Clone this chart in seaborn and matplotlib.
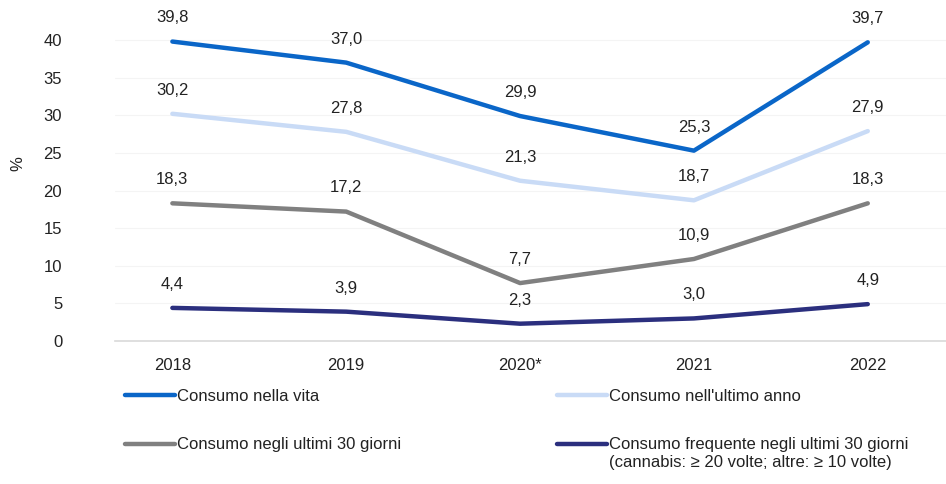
import pandas as pd
import matplotlib.pyplot as plt
import seaborn as sns
from matplotlib.text import Annotation

# data
anni = ["2018", "2019", "2020*", "2021", "2022"]
serie = [
    "Consumo nella vita",
    "Consumo nell'ultimo anno",
    "Consumo negli ultimi 30 giorni",
    "Consumo frequente negli ultimi 30 giorni",
]
vita = [39.8, 37.0, 29.9, 25.3, 39.7]
ultimo_anno = [30.2, 27.8, 21.3, 18.7, 27.9]
ultimi_30 = [18.3, 17.2, 7.7, 10.9, 18.3]
frequente = [4.4, 3.9, 2.3, 3.0, 4.9]
nota_frequente = "(cannabis: ≥ 20 volte; altre: ≥ 10 volte)"

colori = ["#0A66C8", "#C9DBF6", "#808080", "#2B2F7E"]

valori = [vita, ultimo_anno, ultimi_30, frequente]
df = pd.DataFrame({
    "pos": list(range(len(anni))) * len(serie),
    "valore": [v for s in valori for v in s],
    "serie": [n for n in serie for _ in anni],
})

sns.set_style("white")
plt.rcParams["font.family"] = ["Liberation Sans", "DejaVu Sans"]
plt.rcParams["font.size"] = 12

fig = plt.figure(figsize=(9.46, 4.84), dpi=100)
ax = fig.add_axes([115 / 946, 1 - 341 / 484, 1 - 115 / 946, 316 / 484])

sns.lineplot(data=df, x="pos", y="valore", hue="serie", hue_order=serie,
             palette=colori, linewidth=3.2, ax=ax, legend=False)

# data labels above each point
for s in valori:
    for i, v in enumerate(s):
        ax.annotate(f"{v:.1f}".replace(".", ","), (i, v), xytext=(0, 17),
                    textcoords="offset points", ha="center", va="center",
                    fontsize=12, color="#222222")

ax.set_xlim(-0.33, 4.45)
ax.set_ylim(0, 42)
ax.set_xticks(range(len(anni)))
ax.set_xticklabels(anni)
ax.set_yticks(range(0, 45, 5))
ax.tick_params(axis="y", length=0, pad=38, labelsize=12, labelcolor="#222222")
ax.tick_params(axis="x", length=0, pad=12, labelsize=12, labelcolor="#222222")
ax.set_xlabel("")
ax.set_ylabel("%", fontsize=12, color="#222222")
ax.yaxis.set_label_coords(-0.108, 0.56)
ax.yaxis.grid(True, color="#f4f4f4", linewidth=0.8)
for side in ["top", "right", "left"]:
    ax.spines[side].set_visible(False)
ax.spines["bottom"].set_color("#d9d9d9")
ax.spines["bottom"].set_linewidth(1.2)

# legend in two columns below the plot (column-major order)
handles = [plt.Line2D([], [], color=c, linewidth=3.2) for c in colori]
ordine = [0, 2, 1, 3]
leg = fig.legend([handles[i] for i in ordine], [serie[i] for i in ordine],
                 loc="upper left", ncol=2,
                 bbox_to_anchor=(125 / 946, 1 - 389 / 484),
                 frameon=False, borderpad=0, borderaxespad=0,
                 handlelength=3.0, handletextpad=0.1, labelspacing=2.0,
                 columnspacing=9.4, fontsize=12)
for t in leg.get_texts():
    t.set_color("#222222")
nota = Annotation(nota_frequente, xy=(0, 0), xycoords=leg.get_texts()[3],
                  xytext=(0, -2), textcoords="offset points", ha="left",
                  va="top", fontsize=12, color="#222222")
nota.set_zorder(10)
fig.add_artist(nota)

fig.savefig("out.png", dpi=100)
